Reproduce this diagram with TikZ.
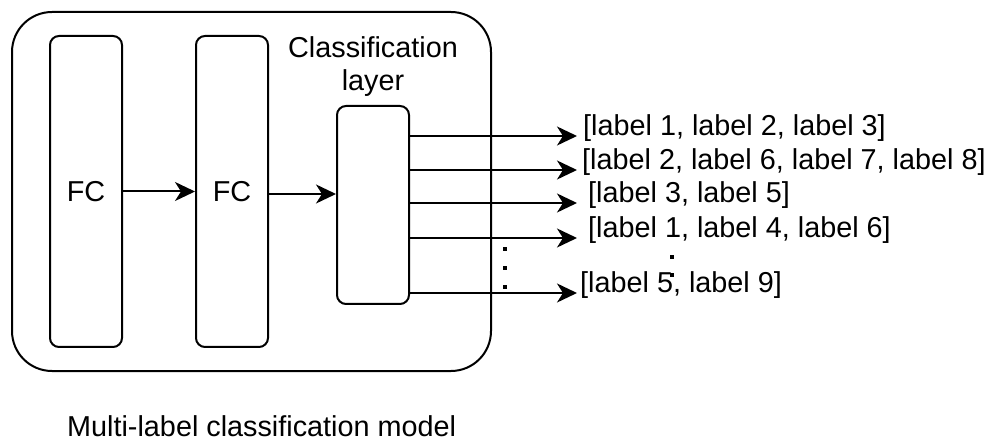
\documentclass[tikz,border=0pt]{standalone}
\usepackage{fontspec}
\setmainfont{Liberation Sans}
\usetikzlibrary{arrows.meta,positioning}

\begin{document}
\begin{tikzpicture}[x=1pt, y=-1pt, font={\fontsize{28.8}{33}\selectfont}]
	\tikzstyle{model} = [ draw, rectangle, line width=2pt, rounded corners=40pt, minimum width=479pt, minimum height=359pt];
	\tikzstyle{layer} = [ draw, rectangle, line width=2pt, rounded corners=9pt, minimum width=72pt, inner sep=0pt];
	\tikzstyle{info} = [ inner sep=0pt, align=center];
	\tikzstyle{point} = [ line width=2pt, -{Stealth[length=20pt, width=19pt, inset=6pt]}];

	\useasboundingbox (0,0) rectangle (990,443);

	\node[model] (mdl) at (251.5,191.5) {};
	\node[layer, minimum height=311pt] (fc1) at (86,191.5) {FC};
	\node[layer, minimum height=311pt, right=72pt of fc1] (fc2) {FC};
	\node[layer, minimum height=198pt] (cls) at (373,205) {};
	\node[info, above=8pt of cls] (clsname) {Classification\\layer};

	\draw[point] (fc1) -- (fc2);
	\draw[point] (fc2.east |- 0,194) -- (cls.west |- 0,194);

	\def \outs {136/6/{[label 1, label 2, label 3]},
		170/5/{[label 2, label 6, label 7, label 8]},
		203/11/{[label 3, label 5]},
		238/11/{[label 1, label 4, label 6]},
		293/3/{[label 5, label 9]}}

	\foreach \y/\dx/\txt [count=\i] in \outs {
		\coordinate (tip\i) at (577,\y);
		\node[info, anchor=base west, xshift=\dx pt] (lab\i) at (tip\i) {\txt};
		\draw[point] (cls.east |- tip\i) -- (tip\i);
	}

	\foreach \y in {249,268,287}
		\fill (503,\y-2) rectangle ++(4,4);
	\foreach \y in {257,275}
		\fill (670,\y-2) rectangle ++(4,4);

	\node[info, anchor=base west] (caption) at (67,436) {Multi-label classification model};
\end{tikzpicture}
\end{document}
